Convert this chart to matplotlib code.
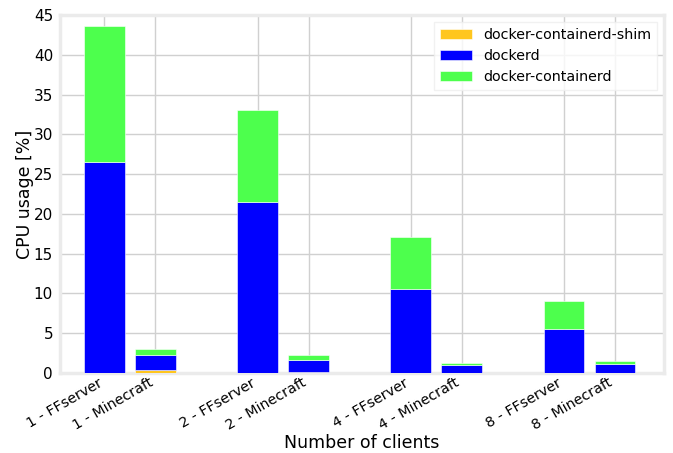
import matplotlib

matplotlib.use("Agg", force=True)
import matplotlib.pyplot as plt
import numpy as np

categories = ["1 - FFserver", "1 - Minecraft", "2 - FFserver", "2 - Minecraft",
              "4 - FFserver", "4 - Minecraft", "8 - FFserver", "8 - Minecraft"]
positions = [0, 1, 3, 4, 6, 7, 9, 10]
shim = [0.0, 0.4, 0.0, 0.1, 0.0, 0.05, 0.0, 0.05]
dockerd = [26.5, 1.85, 21.5, 1.55, 10.5, 0.9, 5.5, 1.05]
containerd = [17.1, 0.75, 11.5, 0.6, 6.6, 0.25, 3.5, 0.4]

fig = plt.figure(figsize=(6.73, 4.53), dpi=100)
ax = fig.add_axes([60 / 673, 1 - 373 / 453, 604 / 673, 358 / 453])

shim = np.array(shim)
dockerd = np.array(dockerd)
containerd = np.array(containerd)
kw = dict(width=0.8, edgecolor="white", linewidth=0.4, zorder=3)
ax.bar(positions, shim, color="#ffc61e", label="docker-containerd-shim", **kw)
ax.bar(positions, dockerd, bottom=shim, color="#0000ff", label="dockerd", **kw)
ax.bar(positions, containerd, bottom=shim + dockerd, color="#4dff4d",
       label="docker-containerd", **kw)

ax.set_xlim(-0.87, 10.96)
ax.set_ylim(0, 45)
ax.set_yticks(range(0, 46, 5))
ax.set_xticks(positions)
ax.set_xticklabels(categories, rotation=30, ha="right", fontsize=10.3)
ax.tick_params(axis="y", labelsize=11, pad=5)
ax.tick_params(axis="x", pad=2)
ax.tick_params(length=0)
ax.grid(True, color="#d0d0d0", linewidth=1, zorder=0)
ax.set_axisbelow(True)
for s in ax.spines.values():
    s.set_color("#ebebeb")
    s.set_linewidth(2.5)

ax.set_xlabel("Number of clients", fontsize=12.5, labelpad=1)
ax.set_ylabel("CPU usage [%]", fontsize=12.5, labelpad=0)
leg = ax.legend(loc="upper right", fontsize=10.3, frameon=True, fancybox=False,
                borderaxespad=0.5, handlelength=2.2)
leg.get_frame().set_edgecolor("#eeeeee")
leg.get_frame().set_linewidth(1)

fig.savefig("out.png", dpi=100)
plt.close(fig)
